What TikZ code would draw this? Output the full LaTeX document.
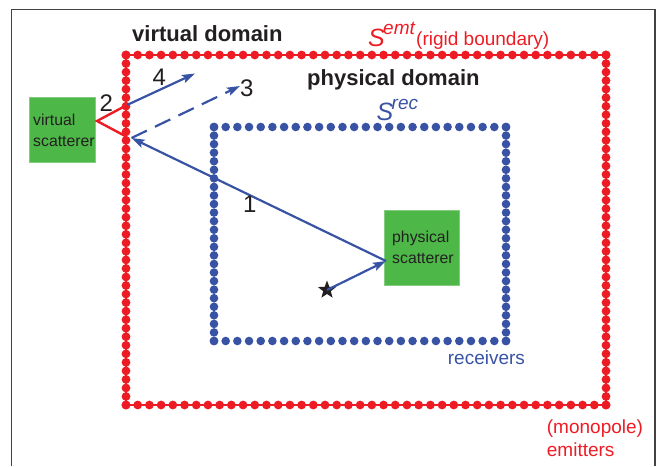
\documentclass[tikz,border=0pt]{standalone}
\usepackage{fontspec}
\setmainfont{Liberation Sans}
\usetikzlibrary{arrows.meta,shapes.geometric}
\definecolor{rd}{HTML}{ED1C24}
\definecolor{bl}{HTML}{3953A4}
\definecolor{gr}{HTML}{4DB848}
\definecolor{ink}{HTML}{231F20}
\newcommand{\fs}[1]{\fontsize{#1}{#1}\selectfont}
\tikzset{
  txt/.style={anchor=base west,inner sep=0pt,text=ink},
  head/.style={txt,font=\fs{22}\bfseries},
  num/.style={txt,font=\fs{24}},
  redtxt/.style={anchor=base west,inner sep=0pt,text=rd,font=\fs{19}},
  bluetxt/.style={anchor=base west,inner sep=0pt,text=bl,font=\fs{19}},
  box/.style={fill=gr,draw=gr!70!white,line width=0.4pt,inner sep=0pt,anchor=north west},
  boxtxt/.style={txt,font=\fs{15.8}},
  ray/.style={bl,line width=2.2pt,-{Stealth[length=13pt,width=8.5pt,inset=2.5pt]}},
  wedge/.style={rd,line width=2.4pt},
  rdot/.style={fill=rd,draw=none},
  bdot/.style={fill=bl,draw=none},
}
\begin{document}
\begin{tikzpicture}[x=1pt,y=-1pt]
\useasboundingbox (0,0) rectangle (658,466);
% frame
\draw[ink!85,line width=1.2pt] (11.5,466) -- (11.5,9.3) -- (655,9.3) -- (655,466);
% red emitter line and dots
\draw[rd,line width=2pt] (126,55) rectangle (606,405);
\foreach \i in {0,...,41}{
  \fill[rdot] (126+\i*11.707,55) circle[radius=4.4pt];
  \fill[rdot] (126+\i*11.707,405) circle[radius=4.4pt];
  \fill[rdot] (126,55+\i*8.537) circle[radius=4.4pt];
  \fill[rdot] (606,55+\i*8.537) circle[radius=4.4pt];
}
% blue receiver dots
\foreach \i in {0,...,25}{
  \fill[bdot] (214,127+\i*8.56) circle[radius=4.3pt];
  \fill[bdot] (506,127+\i*8.56) circle[radius=4.3pt];
}
\foreach \i in {0,...,25}{
  \fill[bdot] (214+\i*11.68,127) circle[radius=4.3pt];
  \fill[bdot] (214+\i*11.68,341) circle[radius=4.3pt];
}
% scatterers
\node[box,minimum width=65.5pt,minimum height=65pt] (vs) at (29,97) {};
\node[box,minimum width=75pt,minimum height=75pt] (ps) at (383.7,209.5) {};
\node[boxtxt] (vs1) at (33,125) {virtual};
\node[boxtxt] (vs2) at (33,146.7) {scatterer};
\node[boxtxt] (ps1) at (392,242.7) {physical};
\node[boxtxt] (ps2) at (392,263.5) {scatterer};
% ray points
\coordinate (hit) at (386,261);
\coordinate (bounce) at (131.5,138);
\coordinate (apex) at (97,121);
\coordinate (up) at (127,105);
\coordinate (down) at (127,137);
\coordinate (end4) at (195,73.5);
\coordinate (end3) at (240,86);
\node[star,star points=5,star point ratio=2.4,fill=ink,inner sep=0pt,minimum size=19pt] (src) at (327,290) {};
% rays
\draw[ray] (src.center) -- (hit);
\draw[ray] (hit) -- (bounce);
\draw[wedge] (up) -- (apex) -- (down);
\draw[ray] (up) -- (end4);
\draw[ray,dash pattern=on 17pt off 9pt] (bounce) -- (end3);
% labels
\node[head] (vd) at (132,41) {virtual domain};
\node[head] (pd) at (307,85) {physical domain};
\node[num] (n1) at (243,212) {1};
\node[num] (n2) at (99.5,111) {2};
\node[num] (n3) at (240,96.5) {3};
\node[num] (n4) at (152.5,85) {4};
\node[redtxt] (semt) at (368,46) {\fs{25}\itshape S};
\node[redtxt] (emt) at (383,34.5) {\itshape emt};
\node[redtxt] (rigid) at (416,45.7) {(rigid boundary)};
\node[bluetxt] (srec) at (376.5,120) {\fs{25}\itshape S};
\node[bluetxt] (rec) at (391.5,109) {\itshape rec};
\node[bluetxt] (rcv) at (447.7,364) {receivers};
\node[redtxt] (mono) at (546.7,433) {(monopole)};
\node[redtxt] (emi) at (546.7,456) {emitters};
\end{tikzpicture}
\end{document}
